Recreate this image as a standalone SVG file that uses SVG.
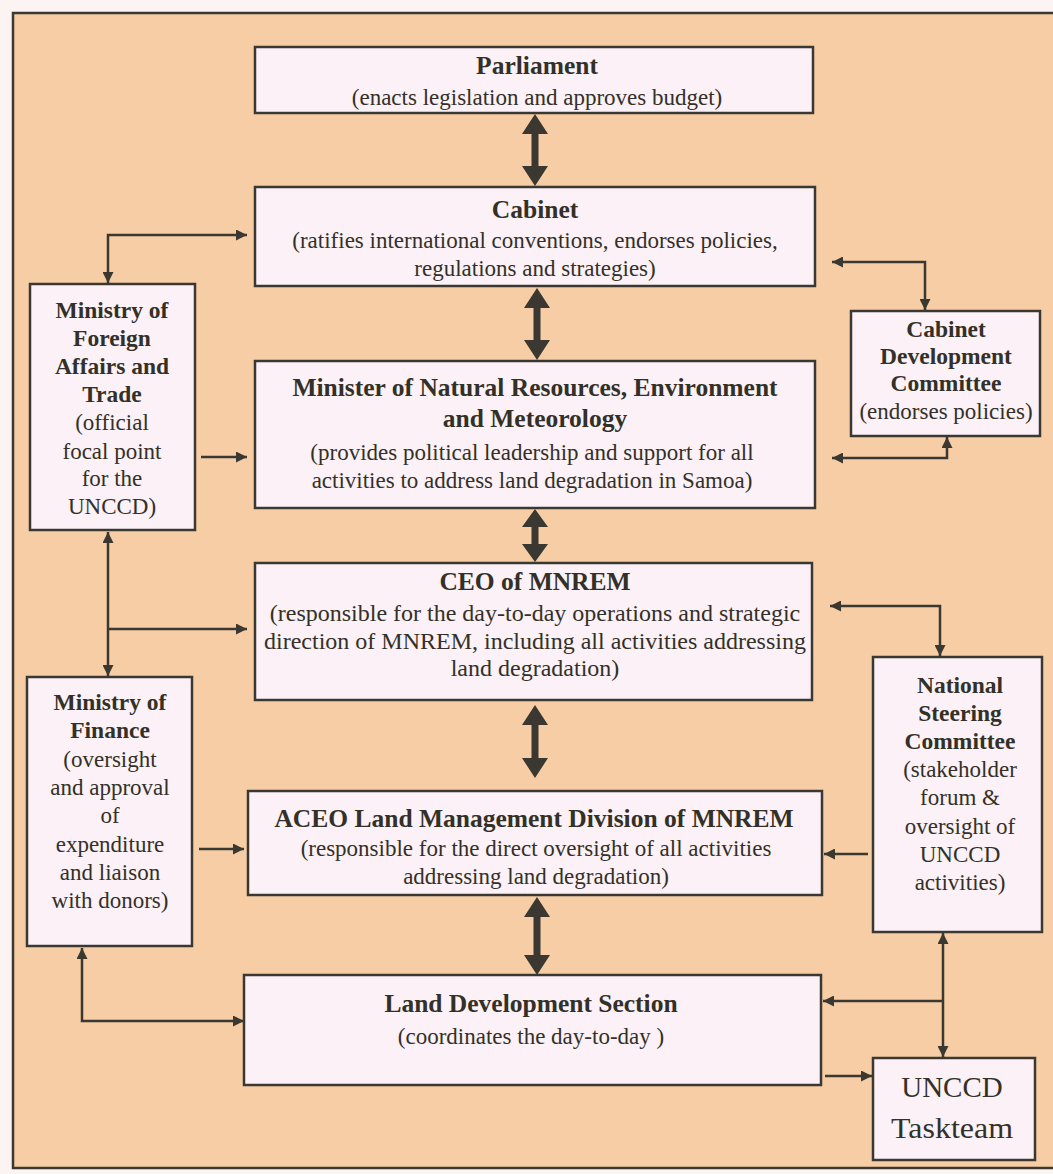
<svg xmlns="http://www.w3.org/2000/svg" width="1053" height="1174" viewBox="0 0 1053 1174">
<defs>
<style>
.box{fill:#fbf1f6;stroke:#3a3830;stroke-width:2.5}
.t{font-family:"Liberation Serif","Times New Roman",serif;fill:#333028;text-anchor:middle}
.b{font-weight:bold;font-size:25.5px}
.r{font-size:23px}
.sb{font-weight:bold;font-size:23.5px}
.sr{font-size:23px}
.c{fill:none;stroke:#3a3830;stroke-width:2.5}
.k{fill:#3a3830;stroke:none}
</style>
<marker id="a" viewBox="0 0 10 10" refX="10" refY="5" markerWidth="12" markerHeight="11" markerUnits="userSpaceOnUse" orient="auto-start-reverse"><path d="M0,0L10,5L0,10z" fill="#3a3830"/></marker>
</defs>
<rect x="0" y="0" width="1053" height="1174" fill="#fcf3f3"/>
<rect x="13" y="13" width="1050" height="1155" fill="#f6cda4" stroke="#3a3830" stroke-width="2.5"/>

<g id="connectors">
<path class="k" d="M535,114L548,134H538.5V166H548L535,186L522,166H531.5V134H522Z"/>
<path class="k" d="M537,288L550,308H540.5V340H550L537,360L524,340H533.5V308H524Z"/>
<path class="k" d="M535,509L548,527H538.5V544H548L535,562L522,544H531.5V527H522Z"/>
<path class="k" d="M535,705L548,725H538.5V758H548L535,778L522,758H531.5V725H522Z"/>
<path class="k" d="M537,897L550,917H540.5V955H550L537,975L524,955H533.5V917H524Z"/>
<path class="c" d="M108,283V235H247" marker-start="url(#a)" marker-end="url(#a)"/>
<path class="c" d="M201,457H247" marker-end="url(#a)"/>
<path class="c" d="M108,532V676" marker-start="url(#a)" marker-end="url(#a)"/>
<path class="c" d="M108,629H247" marker-end="url(#a)"/>
<path class="c" d="M199,849H244" marker-end="url(#a)"/>
<path class="c" d="M82,948V1021H244" marker-start="url(#a)" marker-end="url(#a)"/>
<path class="c" d="M832,262H925V310" marker-start="url(#a)" marker-end="url(#a)"/>
<path class="c" d="M832,458H947V437" marker-start="url(#a)" marker-end="url(#a)"/>
<path class="c" d="M830,606H940V656" marker-start="url(#a)" marker-end="url(#a)"/>
<path class="c" d="M868,854H824" marker-end="url(#a)"/>
<path class="c" d="M943,933V1057" marker-start="url(#a)" marker-end="url(#a)"/>
<path class="c" d="M943,1001H823" marker-end="url(#a)"/>
<path class="c" d="M825,1076H872" marker-end="url(#a)"/>
</g>

<g id="parliament">
<rect class="box" x="255" y="47" width="558" height="66"/>
<text class="t b" x="537" y="74">Parliament</text>
<text class="t r" x="537" y="105">(enacts legislation and approves budget)</text>
</g>

<g id="cabinet">
<rect class="box" x="255" y="187" width="560" height="99"/>
<text class="t b" x="535" y="218">Cabinet</text>
<text class="t r" x="535" y="248">(ratifies international conventions, endorses policies,</text>
<text class="t r" x="535" y="276">regulations and strategies)</text>
</g>

<g id="minister">
<rect class="box" x="255" y="361" width="560" height="147"/>
<text class="t b" x="535" y="396">Minister of Natural Resources, Environment</text>
<text class="t b" x="535" y="427">and Meteorology</text>
<text class="t r" x="532" y="460">(provides political leadership and support for all</text>
<text class="t r" x="532" y="488">activities to address land degradation in Samoa)</text>
</g>

<g id="ceo">
<rect class="box" x="255" y="563" width="557" height="137"/>
<text class="t b" x="535" y="590">CEO of MNREM</text>
<text class="t" font-size="24" x="535" y="621">(responsible for the day-to-day operations and strategic</text>
<text class="t" font-size="24" x="535" y="649">direction of MNREM, including all activities addressing</text>
<text class="t" font-size="24" x="535" y="676">land degradation)</text>
</g>

<g id="aceo">
<rect class="box" x="248" y="791" width="574" height="104"/>
<text class="t b" x="534" y="827">ACEO Land Management Division of MNREM</text>
<text class="t r" x="536" y="856">(responsible for the direct oversight of all activities</text>
<text class="t r" x="536" y="884">addressing land degradation)</text>
</g>

<g id="lds">
<rect class="box" x="244" y="975" width="577" height="110"/>
<text class="t b" x="531" y="1012">Land Development Section</text>
<text class="t r" x="531" y="1044">(coordinates the day-to-day )</text>
</g>

<g id="taskteam">
<rect class="box" x="873" y="1058" width="162" height="102"/>
<text class="t" font-size="29" x="952" y="1097">UNCCD</text>
<text class="t" font-size="29" x="952" y="1138" textLength="122" lengthAdjust="spacingAndGlyphs">Taskteam</text>
</g>

<g id="mofat">
<rect class="box" x="30" y="284" width="165" height="246"/>
<text class="t sb" x="112" y="318">Ministry of</text>
<text class="t sb" x="112" y="346">Foreign</text>
<text class="t sb" x="112" y="374">Affairs and</text>
<text class="t sb" x="112" y="402">Trade</text>
<text class="t sr" x="112" y="430">(official</text>
<text class="t sr" x="112" y="459">focal point</text>
<text class="t sr" x="112" y="486">for the</text>
<text class="t sr" x="112" y="514">UNCCD)</text>
</g>

<g id="mof">
<rect class="box" x="27" y="677" width="165" height="269"/>
<text class="t sb" x="110" y="710">Ministry of</text>
<text class="t sb" x="110" y="738">Finance</text>
<text class="t sr" x="110" y="767">(oversight</text>
<text class="t sr" x="110" y="795">and approval</text>
<text class="t sr" x="110" y="823">of</text>
<text class="t sr" x="110" y="852">expenditure</text>
<text class="t sr" x="110" y="880">and liaison</text>
<text class="t sr" x="110" y="908">with donors)</text>
</g>

<g id="cdc">
<rect class="box" x="851" y="311" width="189" height="125"/>
<text class="t sb" x="946" y="337">Cabinet</text>
<text class="t sb" x="946" y="364">Development</text>
<text class="t sb" x="946" y="391">Committee</text>
<text class="t sr" x="946" y="419">(endorses policies)</text>
</g>

<g id="nsc">
<rect class="box" x="873" y="657" width="169" height="275"/>
<text class="t sb" x="960" y="693">National</text>
<text class="t sb" x="960" y="721">Steering</text>
<text class="t sb" x="960" y="749">Committee</text>
<text class="t sr" x="960" y="777">(stakeholder</text>
<text class="t sr" x="960" y="805">forum &amp;</text>
<text class="t sr" x="960" y="834">oversight of</text>
<text class="t sr" x="960" y="862">UNCCD</text>
<text class="t sr" x="960" y="890">activities)</text>
</g>
</svg>
